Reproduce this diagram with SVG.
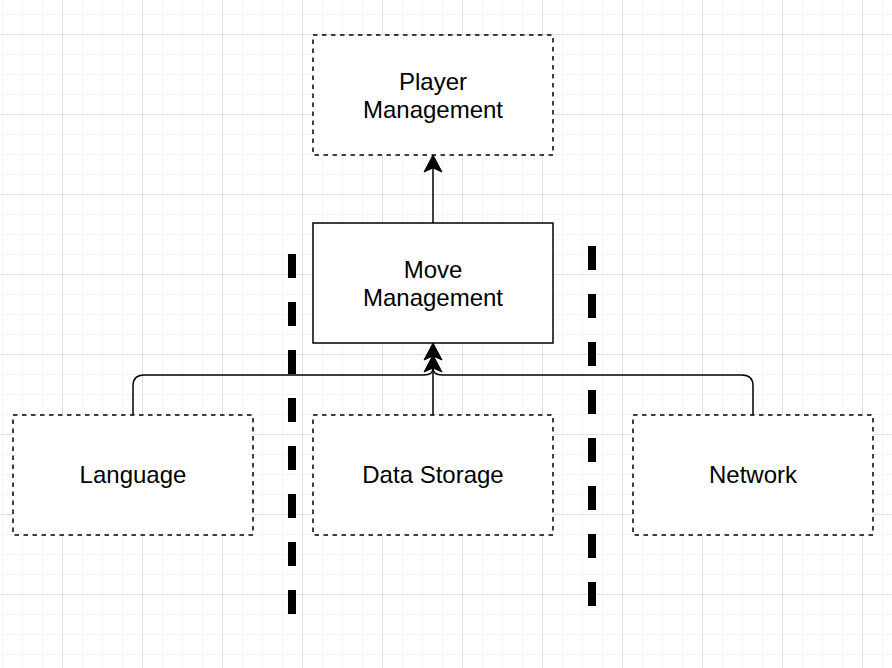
<svg xmlns="http://www.w3.org/2000/svg" xmlns:xlink="http://www.w3.org/1999/xlink" width="892" height="668" viewBox="0 0 892 668">
  <style>
    .box { fill: #ffffff; stroke: #000000; stroke-width: 1.5; }
    .dashed { stroke-dasharray: 4.5 4.5; }
    .lbl { font-family: "Liberation Sans", Arial, Helvetica, sans-serif; font-size: 24px; fill: #000000; text-anchor: middle; }
    .edge { fill: none; stroke: #000000; stroke-width: 1.5; }
    .sep { fill: none; stroke: #000000; stroke-width: 8; stroke-dasharray: 24 24; }
    .head { fill: #000000; stroke: #000000; stroke-width: 1; stroke-linejoin: miter; }
  </style>
  <defs>
    <pattern id="minor" patternUnits="userSpaceOnUse" x="2" y="14" width="20" height="20">
      <path d="M0.5 0 V20 M0 0.5 H20" stroke="#f4f4f4" stroke-width="1" fill="none"/>
    </pattern>
    <pattern id="major" patternUnits="userSpaceOnUse" x="62" y="34" width="80" height="80">
      <path d="M0.5 0 V80 M0 0.5 H80" stroke="#e0e0e0" stroke-width="1" fill="none"/>
    </pattern>
    <path id="arrow" class="head" d="M0 0 L9 17 L0 13 L-9 17 Z"/>
  </defs>

  <rect x="0" y="0" width="892" height="668" fill="#ffffff"/>
  <rect x="0" y="0" width="892" height="668" fill="url(#minor)"/>
  <rect x="0" y="0" width="892" height="668" fill="url(#major)"/>

  <g id="separators">
    <line class="sep" x1="292" y1="254" x2="292" y2="614"/>
    <line class="sep" x1="592" y1="246" x2="592" y2="606"/>
  </g>

  <g id="player-management">
    <rect class="box dashed" x="313" y="35" width="240" height="120"/>
    <text class="lbl" x="433" y="90">Player</text>
    <text class="lbl" x="433" y="118">Management</text>
  </g>

  <g id="move-management">
    <rect class="box" x="313" y="223" width="240" height="120"/>
    <text class="lbl" x="433" y="278">Move</text>
    <text class="lbl" x="433" y="306">Management</text>
  </g>

  <g id="language">
    <rect class="box dashed" x="13" y="415" width="240" height="120"/>
    <text class="lbl" x="133" y="483">Language</text>
  </g>

  <g id="data-storage">
    <rect class="box dashed" x="313" y="415" width="240" height="120"/>
    <text class="lbl" x="433" y="483">Data Storage</text>
  </g>

  <g id="network">
    <rect class="box dashed" x="633" y="415" width="240" height="120"/>
    <text class="lbl" x="753" y="483">Network</text>
  </g>

  <g id="connectors">
    <line class="edge" x1="433" y1="223" x2="433" y2="168"/>
    <use xlink:href="#arrow" x="433" y="155"/>

    <line class="edge" x1="433" y1="415" x2="433" y2="356"/>
    <path class="edge" d="M133 415 L133 386 Q133 375 144 375 L424 375 Q433 375 433 368"/>
    <path class="edge" d="M753 415 L753 386 Q753 375 742 375 L442 375 Q433 375 433 368"/>
    <use xlink:href="#arrow" x="433" y="355"/>
    <use xlink:href="#arrow" x="433" y="343"/>
  </g>
</svg>
